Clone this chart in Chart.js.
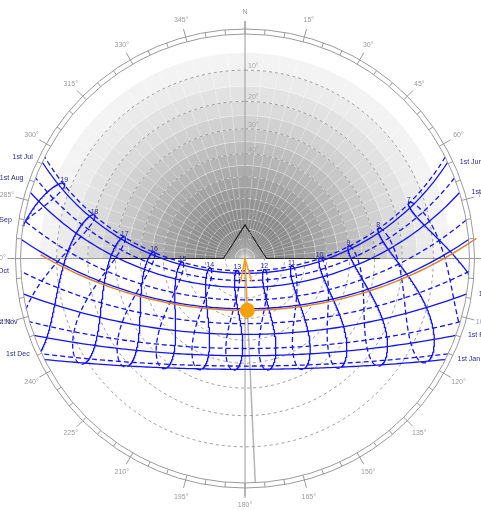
<!DOCTYPE html>
<html>
<head>
<meta charset="utf-8">
<script src="https://cdn.jsdelivr.net/npm/chart.js@4.4.0/dist/chart.umd.min.js"></script>
<style>
  html, body { margin: 0; padding: 0; background: #fff; }
  #wrap { width: 481px; height: 511px; }
</style>
</head>
<body>
<div id="wrap"><canvas id="chart" width="481" height="511"></canvas></div>
<script>
// Site (solstice noon heights, offset of the hour loops)
const latitude = 29.5;
const longitude = 109.6;
const timeZone = 8;

// Date lines: 1st of each month. Jan-Jun solid, Jul-Dec dashed
const months = ['Jan', 'Feb', 'Mar', 'Apr', 'May', 'Jun', 'Jul', 'Aug', 'Sep', 'Oct', 'Nov', 'Dec'];
const monthStartDay = [1, 32, 60, 91, 121, 152, 182, 213, 244, 274, 305, 335];
const clockHours = [7, 8, 9, 10, 11, 12, 13, 14, 15, 16, 17, 18, 19];
const altitudeRings = [10, 20, 30, 40, 50, 60, 70, 80];
const azimuthTicks = [0, 15, 30, 45, 60, 75, 90, 105, 120, 135, 150, 165, 180, 195, 210, 225, 240, 255, 270, 285, 300, 315, 330, 345];

// Current sun (orange): day of year, clock time, path drawn from/to
const currentDay = 89;
const currentTime = 12.7;
const currentPathHours = [6.5, 18.5];

// Obstruction outline [azimuth, altitude]
const obstruction = [[270, 28], [270, 79], [0, 73], [90, 79], [90, 28]];

// Sky shading, grey level per 5 deg band from 5 deg up to the zenith
const skyShade = [243, 235, 226, 218, 209, 200, 191, 182, 173, 164, 155, 147, 140, 135, 134, 138, 146];

const D2R = Math.PI / 180;
const R = 224.5;

function radiusFor(alt) {
  return R * Math.tan((90 - alt) / 2 * D2R);
}

function project(alt, az) {
  const r = radiusFor(alt);
  return { x: r * Math.sin(az * D2R), y: r * Math.cos(az * D2R), alt: alt };
}

function dayAngle(doy, clock) {
  return 2 * Math.PI / 365 * (doy - 1 + (clock - 12) / 24);
}

function declination(g) {
  return 0.006918 - 0.399912 * Math.cos(g) + 0.070257 * Math.sin(g) - 0.006758 * Math.cos(2 * g)
    + 0.000907 * Math.sin(2 * g) - 0.002697 * Math.cos(3 * g) + 0.00148 * Math.sin(3 * g);
}

function equationOfTime(g) {
  return 229.18 * (0.000075 + 0.001868 * Math.cos(g) - 0.032077 * Math.sin(g)
    - 0.014615 * Math.cos(2 * g) - 0.040849 * Math.sin(2 * g));
}

function fromHourAngle(dec, H) {
  const lat = latitude * D2R;
  const sinAlt = Math.sin(lat) * Math.sin(dec) + Math.cos(lat) * Math.cos(dec) * Math.cos(H);
  const alt = Math.asin(sinAlt) / D2R;
  const az = Math.atan2(-Math.sin(H) * Math.cos(dec),
    Math.sin(dec) * Math.cos(lat) - Math.cos(dec) * Math.sin(lat) * Math.cos(H)) / D2R;
  return project(alt, (az + 360) % 360);
}

function sunAt(doy, clock) {
  const g = dayAngle(doy, clock);
  const solar = clock + (4 * (longitude - 15 * timeZone) + equationOfTime(g)) / 60;
  return fromHourAngle(declination(g), (solar - 12) * 15 * D2R);
}

function horizonPoint(a, b) {
  const t = a.alt / (a.alt - b.alt);
  const x = a.x + (b.x - a.x) * t, y = a.y + (b.y - a.y) * t;
  const k = R / Math.hypot(x, y);
  return { x: x * k, y: y * k };
}

// split a run of points into the parts above the horizon
function aboveHorizon(list) {
  const segs = [];
  let cur = [];
  for (let i = 0; i < list.length; i++) {
    const p = list[i];
    if (p.alt >= 0) {
      if (!cur.length && i > 0) cur.push(horizonPoint(list[i - 1], p));
      cur.push({ x: p.x, y: p.y });
    } else if (cur.length) {
      cur.push(horizonPoint(list[i - 1], p));
      segs.push(cur);
      cur = [];
    }
  }
  if (cur.length) segs.push(cur);
  return segs;
}

const BLUE = '#1414f0';
const datasets = [];
const dateLabels = [];
const hourLabels = [];

function line(data, color, width, dash, order) {
  datasets.push({
    data: data, showLine: true, borderColor: color, borderWidth: width, borderDash: dash,
    pointRadius: 0, fill: false, tension: 0, order: order
  });
}

// altitude circles
altitudeRings.forEach(a => {
  const pts = [];
  for (let az = 0; az <= 360; az += 3) pts.push(project(a, az));
  line(pts.map(p => ({ x: p.x, y: p.y })), '#8a8a8a', 0.8, [3, 3], 10);
});

// date lines
months.forEach((m, i) => {
  const dec = declination(dayAngle(monthStartDay[i], 12));
  const lat = latitude * D2R;
  const H0 = Math.acos(-Math.tan(lat) * Math.tan(dec));
  const pts = [];
  for (let k = 0; k <= 120; k++) {
    const p = fromHourAngle(dec, -H0 + 2 * H0 * k / 120);
    pts.push({ x: p.x, y: p.y });
  }
  line(pts, BLUE, 1.3, i < 6 ? [] : [5, 3], 5);
  if (i < 6) dateLabels.push({ text: '1st ' + m, p: pts[0], side: 1 });
  else dateLabels.push({ text: '1st ' + m, p: pts[pts.length - 1], side: -1 });
});

// hour loops (analemmas)
clockHours.forEach(h => {
  const first = [], second = [];
  for (let d = 1; d <= 182; d++) first.push(sunAt(d, h));
  for (let d = 182; d <= 366; d++) second.push(sunAt(d, h));
  aboveHorizon(first).forEach(s => line(s, BLUE, 1.3, [], 5));
  aboveHorizon(second).forEach(s => line(s, BLUE, 1.3, [5, 3], 5));
  const top = sunAt(172, h);
  if (top.alt > 0) hourLabels.push({ text: String(h), p: top });
});

// current day path and sun
const todayPts = [];
for (let t = currentPathHours[0]; t <= currentPathHours[1] + 1e-9; t += 0.1) {
  const p = sunAt(currentDay, t);
  todayPts.push({ x: p.x, y: p.y });
}
line(todayPts, '#dc8530', 1.5, [], 2);
const sun = sunAt(currentDay, currentTime);
datasets.push({
  data: [{ x: sun.x, y: sun.y }], pointRadius: 7.5, pointBackgroundColor: '#f7a10a',
  pointBorderWidth: 0, showLine: false, order: 1
});

const FONT = '7px "Liberation Sans", Arial, sans-serif';

const sunPathPlugin = {
  id: 'sunPath',
  beforeDatasetsDraw(chart) {
    const ctx = chart.ctx;
    const xs = chart.scales.x, ys = chart.scales.y;
    const cx = xs.getPixelForValue(0), cy = ys.getPixelForValue(0);
    const px = v => xs.getPixelForValue(v) - cx;
    ctx.save();
    // sky shading in the north half
    skyShade.forEach((g, i) => {
      const r0 = px(radiusFor(5 + 5 * i)), r1 = px(radiusFor(10 + 5 * i));
      ctx.fillStyle = 'rgb(' + g + ',' + g + ',' + g + ')';
      ctx.beginPath();
      ctx.arc(cx, cy, r0, Math.PI, 2 * Math.PI);
      ctx.arc(cx, cy, Math.max(r1, 0), 2 * Math.PI, Math.PI, true);
      ctx.closePath();
      ctx.fill();
    });
    ctx.strokeStyle = 'rgba(255,255,255,0.5)';
    ctx.lineWidth = 0.6;
    for (let a = 5; a < 90; a += 5) {
      ctx.beginPath();
      ctx.arc(cx, cy, px(radiusFor(a)), Math.PI, 2 * Math.PI);
      ctx.stroke();
    }
    const rEdge = px(radiusFor(5));
    for (let az = -90; az <= 90; az += 5) {
      ctx.beginPath();
      ctx.moveTo(cx, cy);
      ctx.lineTo(cx + rEdge * Math.sin(az * D2R), cy - rEdge * Math.cos(az * D2R));
      ctx.stroke();
    }
    // N-S and E-W lines
    ctx.strokeStyle = '#9a9a9a';
    ctx.lineWidth = 1;
    const ext = px(R + 13);
    ctx.beginPath();
    ctx.moveTo(cx, cy - ext); ctx.lineTo(cx, cy + px(R + 15));
    ctx.moveTo(cx - px(R + 11), cy); ctx.lineTo(cx + ext, cy);
    ctx.stroke();
    // obstruction outline
    ctx.strokeStyle = '#222';
    ctx.lineWidth = 1.2;
    ctx.beginPath();
    obstruction.forEach((o, i) => {
      const p = project(o[1], o[0]);
      const X = xs.getPixelForValue(p.x), Y = ys.getPixelForValue(p.y);
      if (i === 0) ctx.moveTo(X, Y); else ctx.lineTo(X, Y);
    });
    ctx.stroke();
    // altitude labels along the north axis
    ctx.font = FONT;
    ctx.fillStyle = '#a8a8a8';
    ctx.textAlign = 'left';
    ctx.textBaseline = 'bottom';
    altitudeRings.forEach(a => {
      ctx.fillText(a + '\u00b0', cx + 3, cy - px(radiusFor(a)) - 0.5);
    });
    // line from the sun out to the horizon
    const sr = Math.hypot(sun.x, sun.y);
    ctx.strokeStyle = '#b4b4b4';
    ctx.lineWidth = 1.5;
    ctx.beginPath();
    ctx.moveTo(xs.getPixelForValue(sun.x), ys.getPixelForValue(sun.y));
    ctx.lineTo(xs.getPixelForValue(sun.x * R / sr), ys.getPixelForValue(sun.y * R / sr));
    ctx.stroke();
    ctx.restore();
  },
  afterDatasetsDraw(chart) {
    const ctx = chart.ctx;
    const xs = chart.scales.x, ys = chart.scales.y;
    const cx = xs.getPixelForValue(0), cy = ys.getPixelForValue(0);
    const px = v => xs.getPixelForValue(v) - cx;
    ctx.save();
    // azimuth ring
    ctx.strokeStyle = '#9a9a9a';
    ctx.lineWidth = 1;
    ctx.beginPath(); ctx.arc(cx, cy, px(R), 0, 2 * Math.PI); ctx.stroke();
    ctx.beginPath(); ctx.arc(cx, cy, px(R + 5), 0, 2 * Math.PI); ctx.stroke();
    ctx.beginPath();
    for (let az = 0; az < 360; az += 5) {
      const r1 = az % 15 === 0 ? R + 13 : R + 5;
      const s = Math.sin(az * D2R), c = Math.cos(az * D2R);
      ctx.moveTo(cx + px(R) * s, cy - px(R) * c);
      ctx.lineTo(cx + px(r1) * s, cy - px(r1) * c);
    }
    ctx.stroke();
    ctx.font = FONT;
    ctx.fillStyle = '#9a9a9a';
    ctx.textAlign = 'center';
    ctx.textBaseline = 'middle';
    azimuthTicks.forEach(az => {
      const r = px(R + 22);
      ctx.fillText(az === 0 ? 'N' : az + '\u00b0', cx + r * Math.sin(az * D2R), cy - r * Math.cos(az * D2R));
    });
    // date labels
    ctx.fillStyle = '#2a2a8c';
    dateLabels.forEach(l => {
      ctx.textAlign = l.side > 0 ? 'left' : 'right';
      ctx.fillText(l.text, xs.getPixelForValue(l.p.x) + 12 * l.side, ys.getPixelForValue(l.p.y));
    });
    // hour labels
    ctx.textAlign = 'center';
    hourLabels.forEach(l => {
      ctx.fillText(l.text, xs.getPixelForValue(l.p.x), ys.getPixelForValue(l.p.y) - 3);
    });
    // arrow from the sun to the observer
    const sx = xs.getPixelForValue(sun.x), sy = ys.getPixelForValue(sun.y);
    const dx = cx - sx, dy = cy - sy, len = Math.hypot(dx, dy);
    const ux = dx / len, uy = dy / len;
    ctx.strokeStyle = '#f2a020';
    ctx.lineWidth = 1.5;
    ctx.beginPath();
    ctx.moveTo(sx, sy); ctx.lineTo(cx, cy);
    ctx.moveTo(cx - ux * 23 - uy * 5.5, cy - uy * 23 + ux * 5.5); ctx.lineTo(cx, cy);
    ctx.lineTo(cx - ux * 23 + uy * 5.5, cy - uy * 23 - ux * 5.5);
    ctx.stroke();
    ctx.restore();
  }
};

new Chart(document.getElementById('chart'), {
  type: 'scatter',
  data: { datasets: datasets },
  options: {
    responsive: false,
    animation: false,
    layout: { padding: 0, autoPadding: false },
    plugins: { legend: { display: false }, tooltip: { enabled: false } },
    scales: {
      x: { type: 'linear', min: -245, max: 236, display: false },
      y: { type: 'linear', min: -252.5, max: 258.5, display: false }
    }
  },
  plugins: [sunPathPlugin]
});
</script>
</body>
</html>
